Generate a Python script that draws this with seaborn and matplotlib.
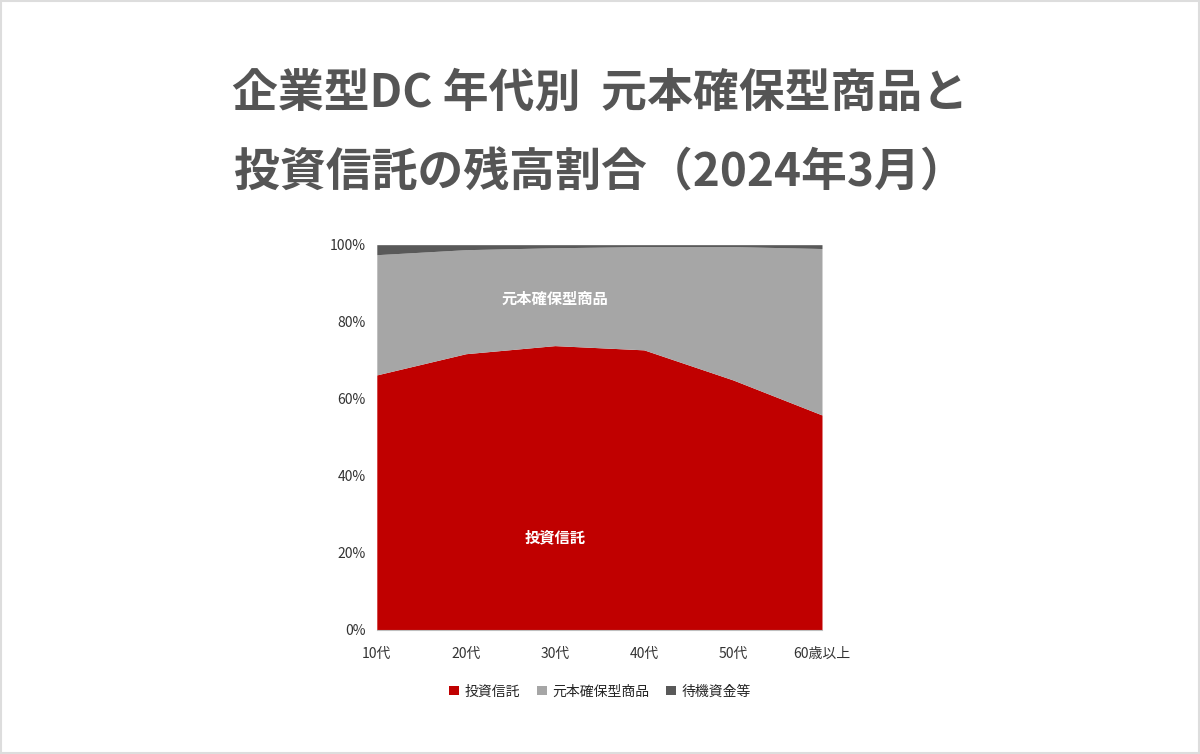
import matplotlib
matplotlib.use('Agg')
import matplotlib.pyplot as plt
import seaborn as sns
import numpy as np

ages = ['10代', '20代', '30代', '40代', '50代', '60歳以上']
toshin = [66.2, 71.7, 73.8, 72.7, 64.9, 55.8]
genpon = [31.2, 27.0, 25.4, 26.8, 34.6, 43.2]
taiki = [2.6, 1.3, 0.8, 0.5, 0.5, 1.0]
series_names = ['投資信託', '元本確保型商品', '待機資金等']
colors = ['#c00000', '#a6a6a6', '#595959']

sns.set_style('white')
# set font after seaborn style, which resets font.family
plt.rcParams['font.family'] = ['Noto Sans CJK JP', 'DejaVu Sans']

fig = plt.figure(figsize=(12, 7.54), dpi=100)
fig.patch.set_facecolor('white')
fig.add_artist(plt.Rectangle((0.001, 0.001), 0.998, 0.998, transform=fig.transFigure,
                             fill=False, edgecolor='#dddddd', lw=1.5))

fig.text(0.5, 0.875, '企業型DC 年代別  元本確保型商品と', ha='center', va='center',
         fontsize=33, fontweight='bold', color='#555555')
fig.text(0.5, 0.77, '投資信託の残高割合（2024年3月）', ha='center', va='center',
         fontsize=33, fontweight='bold', color='#555555')

ax = fig.add_axes([0.314, 0.1645, 0.371, 0.511])
x = np.arange(len(ages))
ax.stackplot(x, toshin, genpon, taiki, colors=colors, labels=series_names, linewidth=0)
ax.set_xlim(0, len(ages) - 1)
ax.set_ylim(0, 100)
ax.set_yticks(range(0, 101, 20))
ax.set_yticklabels([f'{v}%' for v in range(0, 101, 20)])
ax.set_xticks(x)
ax.set_xticklabels(ages)
ax.tick_params(axis='both', labelsize=10, colors='#333333', length=0, pad=8)
ax.tick_params(axis='x', length=4, color='#bfbfbf', direction='out')
for s in ['top', 'right', 'left']:
    ax.spines[s].set_visible(False)
ax.spines['bottom'].set_color('#bfbfbf')

ax.text(2.0, 24, '投資信託', ha='center', va='center', color='white',
        fontsize=11, fontweight='bold')
ax.text(2.0, 86, '元本確保型商品', ha='center', va='center', color='white',
        fontsize=11, fontweight='bold')

handles, labels = ax.get_legend_handles_labels()
fig.legend(handles, labels, loc='center', bbox_to_anchor=(0.5, 0.083), ncol=3,
           frameon=False, fontsize=10, handlelength=0.7, handleheight=0.7,
           columnspacing=1.2, handletextpad=0.4)

fig.savefig('out.png', dpi=100, facecolor='white')
